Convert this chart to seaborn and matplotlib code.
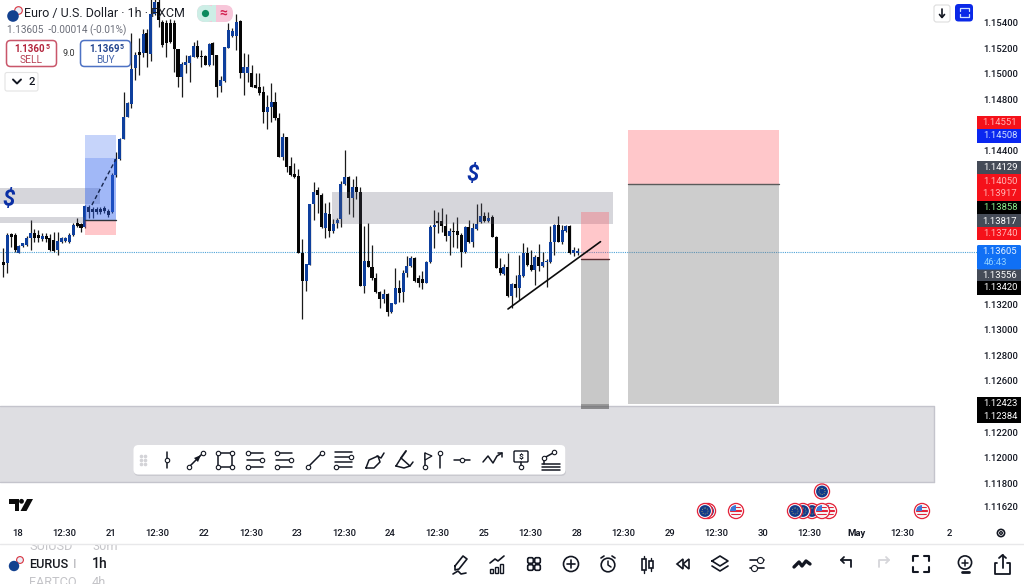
import matplotlib
matplotlib.use("Agg")
import matplotlib.pyplot as plt
from matplotlib.patches import Circle, FancyBboxPatch, Polygon, Rectangle
import numpy as np
import pandas as pd
import seaborn as sns

# EUR/USD 1h candles
opens = [1.13532, 1.13519, 1.13745, 1.13740, 1.13602, 1.13654, 1.13662, 1.13714, 1.13753, 1.13740,
         1.13711, 1.13732, 1.13714, 1.13701, 1.13623, 1.13688, 1.13696, 1.13688, 1.13740, 1.13836,
         1.13826, 1.13800, 1.13956, 1.13946, 1.13946, 1.13946, 1.13948, 1.13930, 1.13922, 1.14209,
         1.14331, 1.14487, 1.14665, 1.14764, 1.15042, 1.15172, 1.15165, 1.15316, 1.15154, 1.15467,
         1.15563, 1.15407, 1.15394, 1.15394, 1.15399, 1.15191, 1.14972, 1.15068, 1.15086, 1.15133,
         1.15217, 1.15138, 1.15138, 1.15068, 1.15237, 1.15146, 1.14904, 1.14946, 1.15198, 1.15295,
         1.15295, 1.15415, 1.15003, 1.15008, 1.15003, 1.14912, 1.14894, 1.14860, 1.14704, 1.14738,
         1.14782, 1.14652, 1.14347, 1.14508, 1.14279, 1.14217, 1.14201, 1.13602, 1.13383, 1.13508,
         1.13982, 1.14091, 1.14052, 1.13797, 1.13904, 1.13774, 1.13831, 1.13862, 1.14138, 1.14190,
         1.14026, 1.14117, 1.14078, 1.13341, 1.13539, 1.13487, 1.13401, 1.13297, 1.13237, 1.13279,
         1.13141, 1.13201, 1.13323, 1.13297, 1.13440, 1.13498, 1.13558, 1.13401, 1.13393, 1.13367,
         1.13532, 1.13805, 1.13852, 1.13852, 1.13810, 1.13732, 1.13774, 1.13774, 1.13740, 1.13610,
         1.13800, 1.13688, 1.13784, 1.13844, 1.13888, 1.13852, 1.13883, 1.13727, 1.13479, 1.13435,
         1.13487, 1.13263, 1.13357, 1.13323, 1.13422, 1.13602, 1.13505, 1.13466, 1.13565, 1.13498,
         1.13529, 1.13532, 1.13688, 1.13818, 1.13688, 1.13774, 1.13810, 1.13602, 1.13597]
highs = [1.13636, 1.13753, 1.13758, 1.13753, 1.13662, 1.13680, 1.13732, 1.13857, 1.13784, 1.13779,
         1.13753, 1.13753, 1.13745, 1.13766, 1.13766, 1.13722, 1.13722, 1.13753, 1.13831, 1.13870,
         1.13836, 1.13975, 1.13975, 1.13961, 1.13956, 1.13961, 1.13967, 1.13940, 1.14222, 1.14391,
         1.14495, 1.14860, 1.14782, 1.15316, 1.15172, 1.15277, 1.15347, 1.15347, 1.15590, 1.15615,
         1.15615, 1.15420, 1.15420, 1.15425, 1.15420, 1.15191, 1.15094, 1.15146, 1.15146, 1.15250,
         1.15263, 1.15185, 1.15146, 1.15243, 1.15250, 1.15146, 1.14982, 1.15211, 1.15394, 1.15355,
         1.15467, 1.15420, 1.15159, 1.15154, 1.15068, 1.15003, 1.15003, 1.14904, 1.14834, 1.14925,
         1.14860, 1.14691, 1.14540, 1.14508, 1.14347, 1.14300, 1.14253, 1.13706, 1.13513, 1.13982,
         1.14156, 1.14117, 1.14065, 1.13987, 1.14000, 1.13862, 1.13870, 1.14164, 1.14404, 1.14201,
         1.14175, 1.14201, 1.14117, 1.13810, 1.13831, 1.13662, 1.13440, 1.13305, 1.13315, 1.13284,
         1.13211, 1.13479, 1.13388, 1.13466, 1.13576, 1.13576, 1.13565, 1.13427, 1.13461, 1.13539,
         1.13818, 1.13935, 1.13922, 1.13948, 1.13904, 1.13792, 1.13844, 1.13878, 1.13758, 1.13810,
         1.13857, 1.13831, 1.13982, 1.13987, 1.13922, 1.13922, 1.13896, 1.13732, 1.13558, 1.13513,
         1.13597, 1.13362, 1.13427, 1.13584, 1.13680, 1.13649, 1.13623, 1.13584, 1.13670, 1.13610,
         1.13550, 1.13810, 1.13826, 1.13888, 1.13818, 1.13818, 1.13818, 1.13643, 1.13636]
lows = [1.13415, 1.13441, 1.13649, 1.13610, 1.13597, 1.13649, 1.13654, 1.13623, 1.13688, 1.13688,
        1.13696, 1.13688, 1.13618, 1.13610, 1.13584, 1.13680, 1.13686, 1.13680, 1.13732, 1.13800,
        1.13766, 1.13792, 1.13870, 1.13870, 1.13904, 1.13904, 1.13909, 1.13883, 1.13915, 1.14196,
        1.14326, 1.14487, 1.14659, 1.14730, 1.14951, 1.14990, 1.15133, 1.15055, 1.15102, 1.15459,
        1.15368, 1.15211, 1.15133, 1.15237, 1.15016, 1.14899, 1.14821, 1.15003, 1.14938, 1.15128,
        1.15120, 1.15055, 1.15068, 1.15060, 1.15068, 1.14821, 1.14860, 1.14938, 1.15198, 1.15290,
        1.15185, 1.14964, 1.14834, 1.14938, 1.14894, 1.14886, 1.14834, 1.14618, 1.14566, 1.14626,
        1.14639, 1.14347, 1.14326, 1.14235, 1.14201, 1.14183, 1.13602, 1.13081, 1.13305, 1.13508,
        1.13857, 1.13909, 1.13792, 1.13714, 1.13722, 1.13753, 1.13792, 1.13800, 1.14130, 1.13904,
        1.13883, 1.14018, 1.13341, 1.13284, 1.13487, 1.13388, 1.13289, 1.13167, 1.13206, 1.13107,
        1.13133, 1.13201, 1.13219, 1.13219, 1.13409, 1.13487, 1.13375, 1.13331, 1.13315, 1.13362,
        1.13524, 1.13636, 1.13758, 1.13766, 1.13696, 1.13584, 1.13643, 1.13636, 1.13487, 1.13602,
        1.13680, 1.13649, 1.13779, 1.13836, 1.13844, 1.13844, 1.13722, 1.13479, 1.13427, 1.13427,
        1.13258, 1.13167, 1.13258, 1.13232, 1.13414, 1.13498, 1.13461, 1.13349, 1.13461, 1.13492,
        1.13336, 1.13524, 1.13584, 1.13688, 1.13670, 1.13766, 1.13591, 1.13576, 1.13584]
closes = [1.13506, 1.13740, 1.13722, 1.13623, 1.13654, 1.13675, 1.13714, 1.13753, 1.13714, 1.13714,
          1.13732, 1.13711, 1.13623, 1.13618, 1.13696, 1.13714, 1.13714, 1.13740, 1.13818, 1.13810,
          1.13792, 1.13967, 1.13920, 1.13920, 1.13920, 1.13920, 1.13930, 1.13896, 1.14209, 1.14331,
          1.14487, 1.14665, 1.14769, 1.15034, 1.15146, 1.15146, 1.15310, 1.15165, 1.15467, 1.15563,
          1.15420, 1.15224, 1.15237, 1.15250, 1.15191, 1.14972, 1.15073, 1.15094, 1.15138, 1.15217,
          1.15128, 1.15128, 1.15068, 1.15232, 1.15146, 1.14899, 1.14951, 1.15206, 1.15342, 1.15336,
          1.15407, 1.15008, 1.15055, 1.15055, 1.14899, 1.14886, 1.14852, 1.14704, 1.14743, 1.14782,
          1.14652, 1.14347, 1.14508, 1.14274, 1.14209, 1.14196, 1.13602, 1.13383, 1.13513, 1.13982,
          1.14078, 1.14052, 1.13800, 1.13909, 1.13774, 1.13826, 1.13857, 1.14138, 1.14190, 1.14026,
          1.14117, 1.14078, 1.13341, 1.13539, 1.13487, 1.13401, 1.13297, 1.13237, 1.13279, 1.13141,
          1.13206, 1.13328, 1.13289, 1.13446, 1.13498, 1.13558, 1.13383, 1.13362, 1.13367, 1.13532,
          1.13805, 1.13818, 1.13831, 1.13810, 1.13732, 1.13774, 1.13766, 1.13740, 1.13610, 1.13805,
          1.13688, 1.13792, 1.13826, 1.13888, 1.13852, 1.13870, 1.13727, 1.13479, 1.13440, 1.13487,
          1.13263, 1.13357, 1.13323, 1.13427, 1.13602, 1.13505, 1.13466, 1.13565, 1.13498, 1.13532,
          1.13539, 1.13688, 1.13818, 1.13688, 1.13779, 1.13810, 1.13597, 1.13623, 1.13615]

price_ticks = [1.154, 1.152, 1.150, 1.148, 1.144, 1.132, 1.130, 1.128, 1.126, 1.122, 1.120, 1.118, 1.1162]
time_labels = ["18", "12:30", "21", "12:30", "22", "12:30", "23", "12:30", "24", "12:30", "25",
               "12:30", "28", "12:30", "29", "12:30", "30", "12:30", "May", "12:30", "2"]

last_price = 1.13605
tag_texts = ["1.14551", "1.14508", "1.14129", "1.14050", "1.13917", "1.13858", "1.13817", "1.13740",
             "1.13556", "1.13420", "1.12423", "1.12384"]
tag_rows = [122.5, 136, 168, 181, 194, 208, 221, 233.5, 275.5, 288, 404, 416.5]
tag_fills = ["#f5111a", "#0a27f0", "#454b57", "#f5111a", "#f5111a", "#000000", "#454b57", "#f5111a",
             "#454b57", "#000000", "#000000", "#000000"]
tag_inks = ["#ffb3b3", "#cfe0ff", "#ffffff", "#ffb3b3", "#ffb3b3", "#8df08d", "#ffffff", "#ffb3b3",
            "#ffffff", "#ffffff", "#ffffff", "#ffffff"]

INK = "#131722"
BLUE = "#0e3f9d"

sns.set_theme(style="white")
plt.rcParams["font.family"] = ["Roboto", "DejaVu Sans"]
plt.rcParams["patch.force_edgecolor"] = False

fig = plt.figure(figsize=(10.24, 5.84), dpi=100)
ax = fig.add_axes([0, 62 / 584, 978 / 1024, 522 / 584])

candles = pd.DataFrame({"open": opens, "high": highs, "low": lows, "close": closes})
candles["idx"] = np.arange(len(candles))
candles["bottom"] = candles[["open", "close"]].min(axis=1)
candles["body"] = (candles["close"] - candles["open"]).abs()
candles["up"] = candles["close"] >= candles["open"]

ax.vlines(candles["idx"], candles["low"], candles["high"], color="#1a1a1a", lw=0.9, zorder=2)
for is_up, colour in [(True, BLUE), (False, "#050505")]:
    part = candles[candles["up"] == is_up]
    sns.barplot(data=part, x="idx", y="body", bottom=part["bottom"], native_scale=True, color=colour,
                width=0.78, saturation=1, errorbar=None, linewidth=0, ax=ax, zorder=3)


def zone(left, right, top, bottom, colour, alpha):
    ax.add_patch(Rectangle((left, bottom), right - left, top - bottom, fc=colour, ec="none",
                           alpha=alpha, zorder=4))


# drawings on the chart, all in bar index / price
zone(-1, 24.9, 1.14107, 1.13982, "#5c5c70", 0.25)
zone(-1, 21, 1.13881, 1.13834, "#5c5c70", 0.25)
zone(84.7, 157, 1.14076, 1.13826, "#5c5c70", 0.25)
zone(-1, 239.9, 1.12408, 1.11810, "#5c5c70", 0.2)
ax.plot([-1, 239.9, 239.9], [1.12408, 1.12408, 1.11810], color="#c4c4cc", lw=1, zorder=4)
ax.plot([-1, 239.9], [1.11810, 1.11810], color="#c4c4cc", lw=1, zorder=4)

zone(20.9, 29, 1.14521, 1.14342, "#2f62ee", 0.27)
zone(20.9, 29, 1.14342, 1.13858, "#2f62ee", 0.45)
zone(20.9, 29, 1.13858, 1.13740, "#ff5560", 0.33)
ax.plot([20.9, 29], [1.13858, 1.13858], color="#30343c", lw=1, zorder=5)
ax.plot([22.8, 29], [1.13974, 1.14334], color="#16264f", lw=1, ls=(0, (3, 2)), zorder=5)

zone(148.9, 156.1, 1.13917, 1.13556, "#ff5560", 0.33)
zone(148.9, 156.1, 1.13556, 1.12423, "#7c7c7c", 0.42)
zone(148.9, 156.1, 1.12423, 1.12384, "#555555", 0.6)
ax.plot([148.9, 156.1], [1.13556, 1.13556], color="#5a2c30", lw=1, zorder=5)

zone(160.9, 199.9, 1.14558, 1.14139, "#ff5560", 0.33)
zone(160.9, 199.9, 1.14139, 1.12423, "#7c7c7c", 0.38)
ax.plot([160.9, 199.9], [1.14139, 1.14139], color="#5a5a5a", lw=1, zorder=5)

ax.plot([130.05, 153.9], [1.13162, 1.13688], color="#0c0c0c", lw=1.2, zorder=5)
ax.axhline(last_price, color="#4da3d8", lw=0.8, ls=(0, (1, 1)), zorder=1)

ax.set_xlim(-0.88, 251.2)
ax.set_ylim(1.11498, 1.15576)
ax.set_xlabel("")
ax.set_ylabel("")
for side in ax.spines.values():
    side.set_visible(False)
ax.yaxis.tick_right()
ax.set_yticks(price_ticks)
ax.set_yticklabels([f"{p:.5f}" for p in price_ticks], fontsize=6.8, fontweight="medium", color=INK)
ax.set_xticks(3.76 + 12 * np.arange(len(time_labels)))
ax.set_xticklabels(time_labels, fontsize=6.8, fontweight="medium", color=INK)
ax.get_xticklabels()[time_labels.index("May")].set_fontweight("bold")
ax.tick_params(axis="y", length=0, pad=3.6)
ax.tick_params(axis="x", length=0, pad=5)

# app chrome on top, in picture pixels
ui = fig.add_axes([0, 0, 1, 1], zorder=10)
ui.set_xlim(0, 1024)
ui.set_ylim(584, 0)
ui.axis("off")
ui.patch.set_alpha(0)


def box(x, y, w, h, fc="white", ec="none", lw=1.0, r=2.5, z=6):
    p = FancyBboxPatch((x, y), w, h, boxstyle=f"round,pad=0,rounding_size={r}", fc=fc, ec=ec, lw=lw, zorder=z)
    ui.add_patch(p)
    return p


def seg(xs, ys, colour=INK, lw=1.1, z=8):
    ui.plot(xs, ys, color=colour, lw=lw, zorder=z, solid_capstyle="round")


def node(x, y, ms=3.2):
    ui.plot([x], [y], "o", mfc="white", mec=INK, ms=ms, mew=0.8, zorder=9)


def txt(x, y, s, size=7, colour=INK, weight="medium", ha="center", **kw):
    return ui.text(x, y, s, fontsize=size, color=colour, fontweight=weight, ha=ha, va="center", zorder=8, **kw)


# header
ui.add_patch(Circle((13, 16), 5.8, fc="#13418f", zorder=7))
ui.add_patch(Circle((18.5, 10.5), 3.8, fc="#e9eef7", ec="#d9343f", lw=0.8, zorder=6))
txt(24.5, 13.5, "Euro / U.S. Dollar · 1h · FXCM", size=9.0, colour="#1b1e26", weight="normal", ha="left")
txt(7, 30.5, "1.13605  -0.00014 (-0.01%)", size=7.2, colour="#6a6d78", weight="normal", ha="left")
box(197, 5, 36, 17, fc="#f7c6d9", r=8)
box(197, 5, 18, 17, fc="#cdeee6", r=8, z=6.5)
ui.add_patch(Rectangle((212, 5), 4, 17, fc="#cdeee6", zorder=6.6))
ui.add_patch(Circle((205.5, 13.5), 3.6, fc="#0c8a5e", zorder=8))
txt(223, 13.5, "≈", size=10, colour="#d31f4f", weight="bold")
box(6.5, 40.5, 50, 26, ec="#c9566a", lw=1.1, r=4)
box(80.5, 40.5, 50, 26, ec="#4d72c4", lw=1.1, r=4)
txt(30, 48.5, "1.1360", size=7, colour="#b3243c", weight="bold")
txt(47.5, 47, "5", size=5, colour="#b3243c", weight="bold")
txt(31.5, 60, "SELL", size=7.4, colour="#b9475a", weight="normal")
txt(104, 48.5, "1.1369", size=7, colour="#23458f", weight="bold")
txt(121.5, 47, "5", size=5, colour="#23458f", weight="bold")
txt(105.5, 60, "BUY", size=7.2, colour="#4667ad", weight="normal")
txt(68.5, 53, "9.0", size=6.5, colour="#333333", weight="normal")
box(5, 72.5, 33, 18.5, ec="#e4e4e4", lw=0.8, r=2)
seg([13, 17, 21], [79.5, 83.5, 79.5], lw=1.4)
txt(32, 82, "2", size=8)

# dollar marks
txt(9, 200, "$", size=16, colour="#0a2fa5", weight="bold", style="italic")
txt(473, 175, "$", size=16, colour="#0a2fa5", weight="bold", style="italic")

# top right buttons
box(934, 5, 16, 17, ec="#dddddd", lw=0.8, r=2.5)
seg([942, 942], [9, 17], lw=1.2)
seg([939.5, 942, 944.5], [14.5, 17.5, 14.5], lw=1.2)
box(955, 4, 18, 17.5, fc="#0a28e8", r=3.5)
seg([959.5, 959.5, 968.5, 968.5], [11, 8, 8, 11], colour="#cfe0ff", lw=0.9)
seg([959.5, 959.5, 968.5, 968.5], [14, 17, 17, 14], colour="#cfe0ff", lw=0.9)

# price tags
for label, row, fill, ink in zip(tag_texts, tag_rows, tag_fills, tag_inks):
    ui.add_patch(Rectangle((977, row - 6.6), 44, 13.2, fc=fill, zorder=6))
    txt(1000, row, label, size=6.8, colour=ink, weight="normal")
box(977, 245, 44, 24.5, fc="#1070f5", r=1.5)
txt(1000, 251.5, f"{last_price:.5f}", size=6.8, colour="#e4f0ff", weight="normal")
txt(984, 262.5, "46:43", size=6.8, colour="#8fd0ff", weight="normal", ha="left")

# drawing toolbar
box(134, 446, 432, 30, fc="#c9c9cf", r=5, z=5.5)
box(133.5, 445, 432, 29.5, fc="white", r=5)
for gx in [141, 145]:
    for gy in [456, 460, 464]:
        ui.plot([gx], [gy], "o", color="#d4d4d8", ms=1.6, zorder=8)

seg([167, 167], [452, 468])
node(167, 460)
seg([189, 203], [467, 453])
ui.add_patch(Polygon([[201, 455], [194, 458], [198, 462]], fc=INK, zorder=8))
node(189, 467)
node(203, 453)
seg([218, 232, 232, 218, 218], [453, 453, 467, 467, 453])
for cx, cy in [(218, 453), (232, 453), (218, 467), (232, 467)]:
    node(cx, cy)
for left, w in [(247, 16), (276, 16)]:
    for row in [453, 460, 467]:
        seg([left, left + w], [row, row])
    node(left + 1, 453)
    node(left + w - 1, 460)
    node(left + 1, 467)
seg([308, 322], [467, 453])
node(308, 467)
node(322, 453)
for row in [452, 457, 462, 467]:
    seg([335, 352], [row, row])
node(351, 457)
node(336, 467)
seg([366, 369, 378, 380, 374, 366], [468, 460, 456, 462, 468, 468])
seg([377, 381, 384], [456, 458, 453])
seg([396, 401, 410, 404, 396], [466, 458, 466, 468, 466])
seg([401, 406], [458, 451], lw=1.4)
seg([410, 413], [466, 462])
seg([425, 425], [453, 468])
ui.add_patch(Polygon([[425, 453], [432, 456], [425, 460]], fc="white", ec=INK, lw=0.9, zorder=8))
node(425, 467)
seg([440, 440], [455, 468])
node(440, 453)
seg([454, 470], [460, 460])
node(462, 460)
seg([483, 488, 493, 497, 502], [462, 456, 463, 456, 453])
seg([498, 502, 502], [453, 453, 457])
box(514, 451, 14, 11, ec=INK, lw=1.0, r=1, z=8)
txt(521, 456.5, "$", size=6, weight="bold")
seg([521, 521], [462, 468])
node(521, 467)
for row in [464, 467, 470]:
    seg([542, 560], [row, row])
seg([544, 553], [458, 453])
seg([544, 544], [458, 464])
node(544, 458)
node(554, 452)

# time axis extras
tv = [[9, 499], [19, 499], [19, 511], [14.5, 511], [14.5, 503.5], [9, 503.5]]
ui.add_patch(Polygon(tv, fc="#0b0b0b", zorder=8))
ui.add_patch(Circle((21.5, 501.3), 2.4, fc="#0b0b0b", zorder=8))
ui.add_patch(Polygon([[27, 499], [33, 499], [26.5, 511], [20.5, 511]], fc="#0b0b0b", zorder=8))

ui.add_patch(Circle((1001, 533), 3.6, fc="white", ec=INK, lw=1.2, zorder=8))
ui.add_patch(Circle((1001, 533), 1.3, fc="white", ec=INK, lw=1.0, zorder=8))


def eu_flag(x, y):
    ui.add_patch(Circle((x, y), 8.2, fc="#e3243b", zorder=7))
    ui.add_patch(Circle((x, y), 6.9, fc="white", zorder=7))
    ui.add_patch(Circle((x, y), 5.9, fc="#123a8a", zorder=7))
    ui.add_patch(Circle((x, y), 3, fc="none", ec="#c9c263", lw=0.6, ls=":", zorder=7))


def us_flag(x, y):
    ui.add_patch(Circle((x, y), 8.2, fc="#e3243b", zorder=7))
    ui.add_patch(Circle((x, y), 6.9, fc="white", zorder=7))
    face = Circle((x, y), 5.9, fc="#f2f2f2", zorder=7)
    ui.add_patch(face)
    for row in [-3.4, 0.2, 3.6]:
        strip = Rectangle((x - 6, y + row - 0.8), 12, 1.6, fc="#e3243b", zorder=7)
        ui.add_patch(strip)
        strip.set_clip_path(face)
    corner = Rectangle((x - 6, y - 6), 6, 6, fc="#3a78d8", zorder=7)
    ui.add_patch(corner)
    corner.set_clip_path(face)


eu_flag(708, 511)
eu_flag(705, 511)
us_flag(736, 511)
eu_flag(812, 511)
eu_flag(803, 511)
eu_flag(795, 511)
us_flag(829, 511)
us_flag(822, 511)
eu_flag(822, 491.5)
us_flag(922, 511)

# bottom bar
txt(29, 546, "SUIUSD", size=9.2, colour="#c4c4c8", weight="normal", ha="left")
txt(92, 546, "30m", size=9.2, colour="#c4c4c8", weight="normal", ha="left")
txt(29, 583, "FARTCO", size=9.2, colour="#c4c4c8", weight="normal", ha="left")
txt(92, 583, "4h", size=9.2, colour="#c4c4c8", weight="normal", ha="left")
ui.add_patch(Rectangle((0, 538), 1024, 5.5, fc="white", zorder=8.5))
seg([0, 1024], [543.5, 543.5], colour="#e8e8ea", lw=1, z=9)
txt(29, 564.5, "EURUS", size=9.2, colour="#16181f", ha="left")
txt(72.5, 564.5, "I", size=9.2, colour="#c0c0c4", ha="left")
txt(92, 564.5, "1h", size=10, colour="#16181f", ha="left")
ui.add_patch(Circle((14, 566), 5.2, fc="#13418f", zorder=7))
ui.add_patch(Circle((20, 560), 3.4, fc="#e9eef7", ec="#d9343f", lw=0.8, zorder=6))

# pencil
seg([455, 463, 467, 459, 455, 455], [566, 556, 559, 569, 570, 566], lw=1.2)
seg([453, 458, 461, 466], [574, 571, 574, 573], lw=1.2)
# chart
for bx, top in [(490, 569), (495, 567), (500, 564)]:
    ui.add_patch(Rectangle((bx, top), 3.4, 573 - top, fc="white", ec=INK, lw=1, zorder=8))
seg([490, 495, 498, 504], [563, 559, 561, 556], lw=1.2)
# grid
for gx, gy in [(530.5, 560.5), (537.5, 560.5), (530.5, 567.5), (537.5, 567.5)]:
    box(gx - 2.8, gy - 2.8, 5.6, 5.6, ec=INK, lw=1.2, r=1.6, z=8)
# plus
ui.add_patch(Circle((571, 564), 7.5, fc="white", ec=INK, lw=1.2, zorder=8))
seg([567, 575], [564, 564], lw=1.2, z=9)
seg([571, 571], [560, 568], lw=1.2, z=9)
# alarm
ui.add_patch(Circle((608, 565), 6.8, fc="white", ec=INK, lw=1.2, zorder=8))
seg([608, 608, 611], [561, 565, 567], lw=1.1, z=9)
seg([601, 604], [558, 556], lw=1.2)
seg([612, 615], [556, 558], lw=1.2)
# candle picker
seg([644, 644], [556, 573], lw=1)
seg([651, 651], [558, 571], lw=1)
ui.add_patch(Rectangle((642, 559), 4, 11, fc="white", ec=INK, lw=1.2, zorder=8))
ui.add_patch(Rectangle((649, 561), 4, 6.5, fc="white", ec=INK, lw=1.2, zorder=8))
# rewind
ui.add_patch(Polygon([[683, 564], [689, 559], [689, 569]], fc="white", ec=INK, lw=1.2, zorder=8))
ui.add_patch(Polygon([[677, 564], [683, 559], [683, 569]], fc="white", ec=INK, lw=1.2, zorder=8))
# layers
seg([712, 720, 728, 720, 712], [561, 556, 561, 566, 561], lw=1.2)
seg([712, 720, 728], [566, 571, 566], lw=1.2)
# sliders
seg([750, 764], [560, 560], lw=1.2)
seg([750, 764], [568, 568], lw=1.2)
node(760, 560, 4.4)
node(754, 568, 4.4)
# templates
seg([794, 799, 802, 806, 810], [567, 562, 566, 561, 564], lw=2.4)
# undo, redo
seg([841, 851, 851], [560, 560, 567], lw=1.3)
seg([844, 841, 844], [557, 560, 563], lw=1.3)
seg([889, 879, 879], [560, 560, 567], colour="#d6d6da", lw=1.3)
seg([886, 889, 886], [557, 560, 563], colour="#d6d6da", lw=1.3)
# fullscreen
for fx, fy, dx, dy in [(913, 556, 1, 1), (929, 556, -1, 1), (913, 572, 1, -1), (929, 572, -1, -1)]:
    seg([fx, fx, fx + 5 * dx], [fy + 5 * dy, fy, fy], lw=1.5)
# bulb
ui.add_patch(Circle((965, 562.5), 6.6, fc="white", ec=INK, lw=1.2, zorder=8))
seg([962, 968], [562.5, 562.5], lw=1.1, z=9)
seg([965, 965], [559.5, 565.5], lw=1.1, z=9)
seg([961.5, 968.5], [572, 572], lw=2, z=9)
# share
seg([997, 995, 995, 1010, 1010, 1007], [563, 563, 574, 574, 563, 563], lw=1.3)
seg([1002.5, 1002.5], [555, 568], lw=1.3)
seg([999, 1002.5, 1006], [558, 555, 558], lw=1.3)

fig.savefig("out.png", dpi=100)
